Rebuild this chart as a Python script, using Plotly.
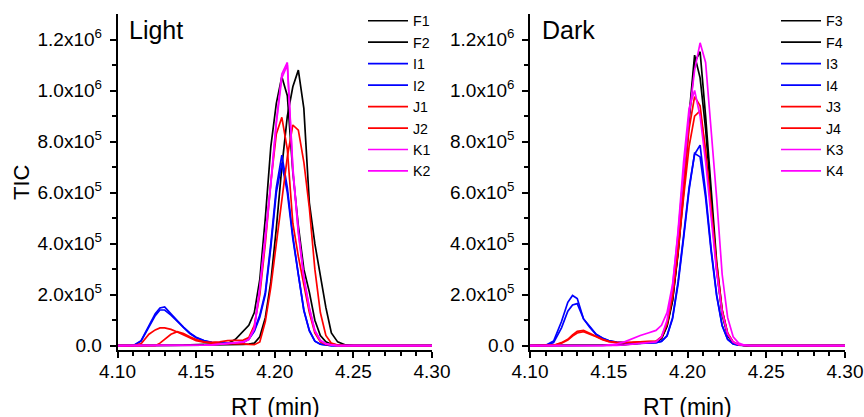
import plotly.graph_objects as go

# Retention time grid (min)
RT = [4.100, 4.110, 4.115, 4.120, 4.124, 4.127, 4.130, 4.134, 4.138, 4.142,
      4.146, 4.150, 4.155, 4.160, 4.165, 4.170, 4.175, 4.180, 4.1835, 4.187,
      4.1905, 4.194, 4.1975, 4.201, 4.2045, 4.208, 4.2115, 4.215, 4.2185, 4.222,
      4.2255, 4.229, 4.2325, 4.236, 4.240, 4.245, 4.250, 4.300]

# TIC values in thousands -- Light panel
F1 = [0, 0, 0, 0, 0, 0, 0, 0, 1, 2, 3, 4, 5, 6, 6, 8, 25, 55, 80, 130,
      260, 500, 780, 950, 1054, 980, 680, 470, 300, 210, 100, 40, 15, 6, 2, 0, 0, 0]
F2 = [0, 0, 0, 0, 0, 0, 0, 0, 0, 0, 0, 1, 2, 3, 3, 4, 4, 5, 6, 10,
      35, 110, 250, 460, 700, 900, 1015, 1080, 930, 560, 400, 270, 150, 50, 15, 3, 0, 0]
I1 = [0, 0, 20, 80, 125, 148, 152, 125, 98, 72, 50, 33, 20, 13, 10, 9, 10, 14, 28, 60,
      120, 210, 400, 620, 747, 620, 430, 280, 140, 60, 18, 6, 2, 0, 0, 0, 0, 0]
I2 = [0, 0, 18, 75, 118, 140, 140, 120, 95, 70, 48, 31, 19, 12, 10, 9, 10, 13, 25, 56,
      112, 200, 385, 600, 715, 600, 420, 275, 138, 58, 18, 6, 2, 0, 0, 0, 0, 0]
J1 = [0, 0, 8, 45, 62, 70, 70, 64, 54, 42, 30, 20, 14, 13, 15, 20, 21, 22, 32, 80,
      200, 400, 640, 830, 895, 770, 480, 350, 240, 130, 50, 15, 5, 2, 0, 0, 0, 0]
J2 = [0, 0, 0, 0, 0, 10, 25, 45, 55, 48, 35, 24, 15, 10, 8, 8, 8, 7, 5, 4,
      15, 95, 230, 400, 580, 740, 865, 845, 720, 540, 300, 130, 40, 10, 3, 0, 0, 0]
K1 = [0, 0, 0, 0, 0, 0, 0, 0, 0, 0, 0, 1, 2, 3, 6, 10, 12, 15, 25, 70,
      230, 430, 640, 880, 1065, 1110, 700, 450, 270, 150, 60, 22, 8, 3, 0, 0, 0, 0]
K2 = [0, 0, 0, 0, 0, 0, 0, 0, 0, 0, 0, 1, 2, 3, 5, 9, 11, 14, 24, 65,
      220, 420, 630, 870, 1050, 1100, 690, 440, 265, 145, 58, 20, 7, 3, 0, 0, 0, 0]

# TIC values in thousands -- Dark panel
F3 = [0, 0, 0, 0, 0, 0, 0, 0, 0, 0, 0, 0, 2, 5, 8, 12, 14, 16, 30, 80,
      180, 360, 600, 880, 1110, 1152, 900, 600, 330, 140, 45, 12, 4, 1, 0, 0, 0, 0]
F4 = [0, 0, 0, 0, 0, 0, 0, 0, 0, 0, 0, 0, 2, 4, 7, 11, 13, 15, 28, 75,
      175, 370, 620, 900, 1139, 1050, 850, 560, 300, 120, 40, 10, 3, 1, 0, 0, 0, 0]
I3 = [0, 2, 18, 95, 170, 197, 185, 105, 75, 45, 30, 20, 14, 11, 10, 10, 10, 12, 18, 40,
      110, 250, 430, 620, 750, 786, 600, 380, 200, 80, 25, 7, 2, 0, 0, 0, 0, 0]
I4 = [0, 1, 12, 70, 135, 160, 165, 105, 72, 44, 29, 19, 13, 10, 9, 9, 10, 12, 17, 38,
      105, 240, 420, 610, 754, 740, 580, 370, 195, 78, 24, 7, 2, 0, 0, 0, 0, 0]
J3 = [0, 0, 2, 12, 25, 42, 56, 60, 48, 36, 25, 17, 12, 12, 14, 16, 16, 18, 35, 90,
      200, 390, 620, 850, 976, 940, 760, 520, 300, 130, 45, 14, 4, 1, 0, 0, 0, 0]
J4 = [0, 0, 1, 10, 22, 38, 50, 55, 46, 35, 24, 16, 12, 12, 13, 15, 15, 17, 32, 85,
      190, 370, 580, 780, 900, 920, 760, 540, 320, 140, 50, 15, 4, 1, 0, 0, 0, 0]
K3 = [0, 0, 0, 0, 0, 0, 0, 0, 0, 0, 0, 0, 1, 3, 6, 10, 12, 15, 35, 100,
      230, 450, 720, 930, 1000, 900, 720, 500, 290, 130, 45, 14, 4, 1, 0, 0, 0, 0]
K4 = [0, 0, 0, 0, 0, 0, 0, 0, 0, 0, 0, 3, 6, 15, 28, 40, 50, 60, 80, 130,
      240, 440, 680, 900, 1080, 1187, 1110, 850, 580, 280, 110, 35, 10, 3, 0, 0, 0, 0]

LIGHT = [("F1", F1), ("F2", F2), ("I1", I1), ("I2", I2),
         ("J1", J1), ("J2", J2), ("K1", K1), ("K2", K2)]
DARK = [("F3", F3), ("F4", F4), ("I3", I3), ("I4", I4),
        ("J3", J3), ("J4", J4), ("K3", K3), ("K4", K4)]
COLORS = {"F": "#000000", "I": "#0000FF", "J": "#FF0000", "K": "#FF00FF"}

X_TICKS = [4.10, 4.15, 4.20, 4.25, 4.30]
X_LABELS = ["4.10", "4.15", "4.20", "4.25", "4.30"]
Y_TICKS = [0, 2e5, 4e5, 6e5, 8e5, 1e6, 1.2e6]
Y_LABELS = ["0.0", "2.0x10<sup>5</sup>", "4.0x10<sup>5</sup>", "6.0x10<sup>5</sup>",
            "8.0x10<sup>5</sup>", "1.0x10<sup>6</sup>", "1.2x10<sup>6</sup>"]

FONT = "Liberation Sans, Arial, sans-serif"
LW = 1.7

fig = go.Figure()
for name, vals in LIGHT:
    fig.add_trace(go.Scatter(x=RT, y=[v * 1000 for v in vals], mode="lines", name=name,
                             line=dict(color=COLORS[name[0]], width=LW),
                             xaxis="x", yaxis="y", legend="legend"))
for name, vals in DARK:
    fig.add_trace(go.Scatter(x=RT, y=[v * 1000 for v in vals], mode="lines", name=name,
                             line=dict(color=COLORS[name[0]], width=LW),
                             xaxis="x2", yaxis="y2", legend="legend2"))

W, H = 864, 417
ydom = [1 - 350 / H, 1 - 14 / H]
yrange = [-16800, 1.3e6]

def xaxis_cfg(dom, anchor):
    return dict(domain=dom, anchor=anchor, range=[4.10, 4.30], automargin=False,
                tickvals=X_TICKS, ticktext=X_LABELS,
                showline=True, linecolor="black", linewidth=1.5,
                ticks="outside", ticklen=6, tickwidth=1.5, tickcolor="black",
                minor=dict(tickvals=[4.11, 4.12, 4.13, 4.14, 4.16, 4.17, 4.18, 4.19,
                                     4.21, 4.22, 4.23, 4.24, 4.26, 4.27, 4.28, 4.29],
                           ticks="outside", ticklen=4, tickwidth=1.5, tickcolor="black"),
                showgrid=False, zeroline=False, ticklabelstandoff=-3,
                tickfont=dict(family=FONT, size=19, color="black"))

def yaxis_cfg(anchor):
    return dict(domain=ydom, anchor=anchor, range=yrange, automargin=False,
                tickvals=Y_TICKS, ticktext=Y_LABELS,
                showline=True, linecolor="black", linewidth=1.5,
                ticks="outside", ticklen=6, tickwidth=1.5, tickcolor="black",
                minor=dict(tickvals=[1e5, 3e5, 5e5, 7e5, 9e5, 1.1e6],
                           ticks="outside", ticklen=4, tickwidth=1.5, tickcolor="black"),
                showgrid=False, zeroline=False, ticklabelstandoff=4,
                tickfont=dict(family=FONT, size=19, color="black"))

legend_common = dict(xref="container", yref="container",
                     xanchor="left", yanchor="top", y=1 - 5 / H,
                     font=dict(family=FONT, size=14.2, color="black"),
                     bgcolor="rgba(0,0,0,0)", borderwidth=0, itemwidth=40,
                     tracegroupgap=0)

fig.update_layout(
    width=W, height=H, margin=dict(l=0, r=0, t=0, b=0, autoexpand=False),
    paper_bgcolor="white", plot_bgcolor="white",
    showlegend=True,
    xaxis=xaxis_cfg([117.5 / W, 432 / W], "y"),
    yaxis=yaxis_cfg("x"),
    xaxis2=xaxis_cfg([530 / W, 845 / W], "y2"),
    yaxis2=yaxis_cfg("x2"),
    legend=dict(x=363 / W, **legend_common),
    legend2=dict(x=776 / W, **legend_common),
    annotations=[
        dict(text="Light", x=127 / W, y=1 - 30 / H, xref="paper", yref="paper",
             xanchor="left", yanchor="middle", showarrow=False,
             font=dict(family=FONT, size=25, color="black")),
        dict(text="Dark", x=540 / W, y=1 - 30 / H, xref="paper", yref="paper",
             xanchor="left", yanchor="middle", showarrow=False,
             font=dict(family=FONT, size=25, color="black")),
        dict(text="TIC", x=22 / W, y=1 - 182 / H, xref="paper", yref="paper",
             xanchor="center", yanchor="middle", textangle=-90, showarrow=False,
             font=dict(family=FONT, size=22, color="black")),
        dict(text="RT (min)", x=275 / W, y=1 - 407 / H, xref="paper", yref="paper",
             xanchor="center", yanchor="middle", showarrow=False,
             font=dict(family=FONT, size=23, color="black")),
        dict(text="RT (min)", x=687 / W, y=1 - 407 / H, xref="paper", yref="paper",
             xanchor="center", yanchor="middle", showarrow=False,
             font=dict(family=FONT, size=23, color="black")),
    ],
)

fig.write_html("out.html")
